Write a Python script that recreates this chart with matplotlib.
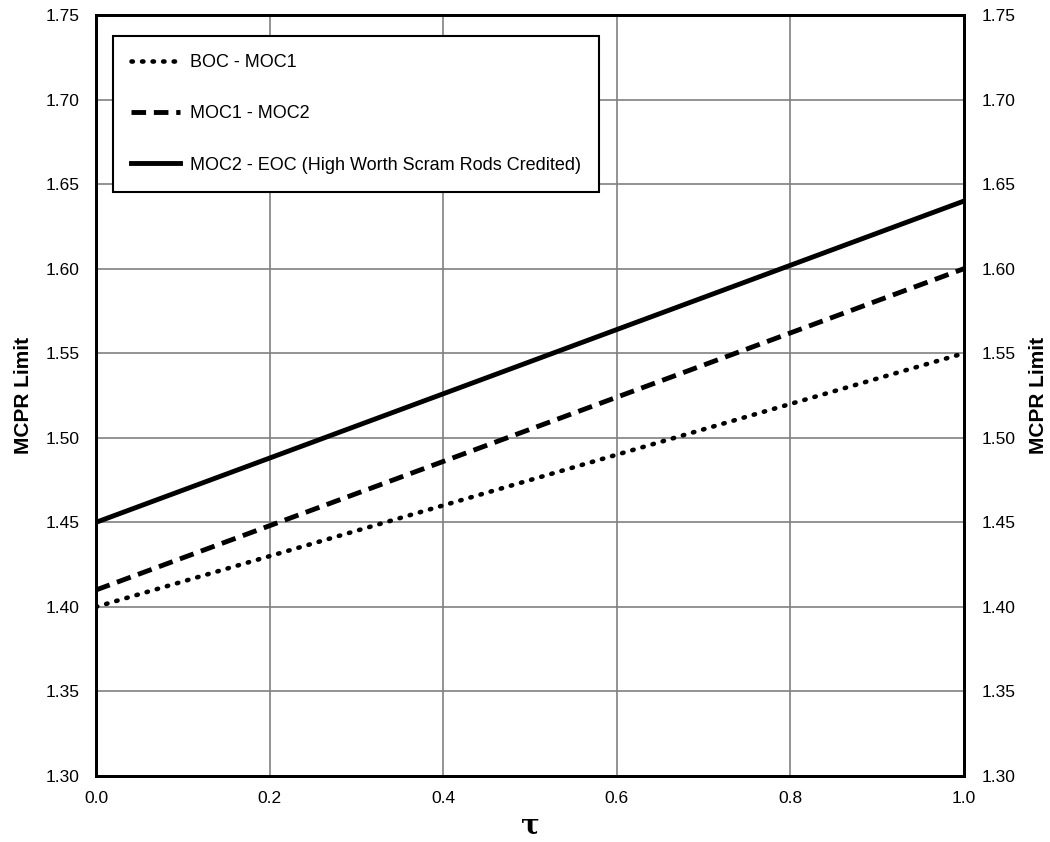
import matplotlib
matplotlib.use("Agg")
import matplotlib.pyplot as plt

plt.rcParams['font.family'] = ['Liberation Sans', 'DejaVu Sans']

tau = [0.0, 1.0]
boc_moc1 = [1.40, 1.55]
moc1_moc2 = [1.41, 1.60]
moc2_eoc = [1.45, 1.64]
labels = ["BOC - MOC1", "MOC1 - MOC2", "MOC2 - EOC (High Worth Scram Rods Credited)"]
xticks = [0.0, 0.2, 0.4, 0.6, 0.8, 1.0]
yticks = [1.30, 1.35, 1.40, 1.45, 1.50, 1.55, 1.60, 1.65, 1.70, 1.75]

fig = plt.figure(figsize=(10.5, 8.42), dpi=100)
ax = fig.add_axes([96/1050, 1 - 776/842, (964-96)/1050, (776-15)/842])

ax.plot(tau, boc_moc1, color='black', lw=3.3, linestyle=(0, (0.3, 2.0)), dash_capstyle='round', label=labels[0])
ax.plot(tau, moc1_moc2, color='black', lw=3.5, linestyle=(0, (3, 1.6)), label=labels[1])
ax.plot(tau, moc2_eoc, color='black', lw=3.5, linestyle='-', label=labels[2])

ax.set_xlim(0, 1)
ax.set_ylim(1.30, 1.75)
ax.set_xticks(xticks)
ax.set_xticklabels([f"{v:.1f}" for v in xticks])
ax.set_yticks(yticks)
ax.set_yticklabels([f"{v:.2f}" for v in yticks])
ax.grid(True, color='#808080', lw=1.2)
ax.set_axisbelow(True)
for s in ax.spines.values():
    s.set_linewidth(2)
ax.tick_params(length=0, labelsize=12.5)
ax.tick_params(axis='x', pad=11)
ax.tick_params(axis='y', pad=12)

ax.set_ylabel("MCPR Limit", fontsize=15, fontweight='bold')
ax.yaxis.set_label_coords(-(96-33)/868, 0.5)
ax.set_xlabel("τ", fontsize=20, fontweight='bold', family=['DejaVu Serif'], labelpad=4)

ax2 = ax.twinx()
ax2.set_ylim(1.30, 1.75)
ax2.set_yticks(yticks)
ax2.set_yticklabels([f"{v:.2f}" for v in yticks])
ax2.tick_params(length=0, labelsize=12.5, pad=13)
ax2.set_ylabel("MCPR Limit", fontsize=15, fontweight='bold')
ax2.yaxis.set_label_coords(1 + (1029-964)/868, 0.5)
for s in ax2.spines.values():
    s.set_linewidth(2)

leg = ax.legend(loc='upper left', bbox_to_anchor=(17/868, 1 - 21/761), fontsize=13,
                frameon=True, fancybox=False, edgecolor='black', framealpha=1,
                borderaxespad=0, handlelength=2.7, handletextpad=0.55,
                labelspacing=1.9, borderpad=1.0)
leg.get_frame().set_linewidth(1.5)

fig.savefig("out.png", dpi=100)
